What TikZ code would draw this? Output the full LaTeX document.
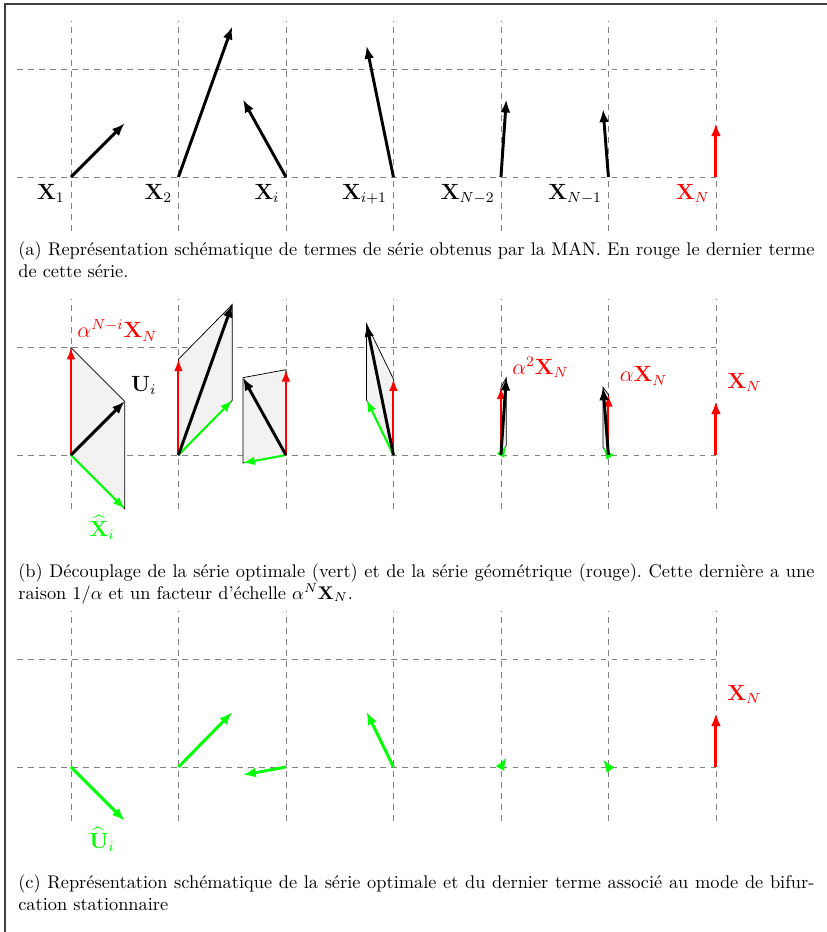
\documentclass[tikz,border=0pt]{standalone}
\usepackage{amsmath,amssymb}
\usepackage{tikz}
\usetikzlibrary{arrows.meta}
\frenchspacing

\begin{document}
\begin{tikzpicture}[x=58.6pt,y=58.6pt,
	grille/.style={gray, dashed},
	vec/.style={line width=1.6pt, -{Latex[length=7pt,width=5.4pt]}},
	vecfin/.style={line width=1.1pt, -{Latex[length=6.5pt,width=4.8pt]}},
	etiq/.style={font=\fontsize{11.5}{14}\selectfont},
	legende/.style={anchor=north west, text width=434pt, align=justify, inner sep=0pt},
	terme/.style={etiq, anchor=south west, inner sep=2pt, xshift=4pt, yshift=3pt, red}]
	\useasboundingbox (-0.660,-7.023) rectangle (7.033,1.647);
	\draw[black!75, line width=0.9pt] (-0.614,-7.023) -- (-0.614,1.609) -- (7.033,1.609);
	% grilles des trois panneaux
	\foreach \yb in {0,-2.586,-5.488} {
		\foreach \i in {0,...,6} \draw[grille] (\i,\yb-0.5) -- (\i,\yb+1.45);
		\draw[grille] (-0.5,\yb) -- (6,\yb);
		\draw[grille] (-0.5,\yb+1) -- (6,\yb+1);
	}
	% (a) termes de la serie
	\foreach \i/\dx/\dy in {0/0.5/0.5, 1/0.5/1.4, 2/-0.4/0.72, 3/-0.25/1.22, 4/0.05/0.72, 5/-0.05/0.63} {
		\coordinate (a\i) at (\i,0);
		\draw[vec] (a\i) -- ++(\dx,\dy) coordinate (a\i t);
	}
	\coordinate (a6) at (6,0);
	\draw[vec, red] (a6) -- ++(0,0.5) coordinate (a6t);
	\foreach \i/\lab in {0/1, 1/2, 2/i, 3/i+1, 4/N-2, 5/N-1}
		\node[etiq, below left, yshift=-0.5pt] (la\i) at (a\i) {$\mathbf{X}_{\lab}$};
	\node[etiq, below left, yshift=-0.5pt, red] (la6) at (a6) {$\mathbf{X}_N$};
	\node[legende] (capa) at (-0.493,-0.595) {(a) Représentation schématique de termes de série obtenus par la MAN. En rouge le dernier terme de cette série.};
	% (b) decouplage
	\foreach \i/\r/\gx/\gy in {0/1.0/0.5/-0.5, 1/0.891/0.5/0.509, 2/0.794/-0.4/-0.074, 3/0.707/-0.25/0.513, 4/0.630/0.05/0.09, 5/0.561/-0.05/0.069} {
		\coordinate (b\i) at (\i,-2.586);
		\path (b\i) ++(0,\r) coordinate (b\i r) ++(\gx,\gy) coordinate (b\i u);
		\path (b\i) ++(\gx,\gy) coordinate (b\i g);
		\filldraw[fill=gray!10, draw=black, thin] (b\i) -- (b\i r) -- (b\i u) -- (b\i g) -- cycle;
		\draw[vecfin, red] (b\i) -- (b\i r);
		\draw[vecfin, green] (b\i) -- (b\i g);
		\draw[vec] (b\i) -- (b\i u);
	}
	\coordinate (b6) at (6,-2.586);
	\draw[vec, red] (b6) -- ++(0,0.5) coordinate (b6r);
	\node[etiq, above right, red] (lb0) at (b0r) {$\alpha^{N-i}\mathbf{X}_N$};
	\node[etiq, above right] (lbu) at (b0u) {$\mathbf{U}_i$};
	\node[etiq, below left, xshift=-2pt, green] (lbg) at (b0g) {$\widehat{\mathbf{X}}_i$};
	\node[terme] (lb4) at (b4r) {$\alpha^2\mathbf{X}_N$};
	\node[terme] (lb5) at (b5r) {$\alpha\mathbf{X}_N$};
	\node[terme] (lb6) at (b6r) {$\mathbf{X}_N$};
	\node[legende] (capb) at (-0.493,-3.591) {(b) Découplage de la série optimale (vert) et de la série géométrique (rouge). Cette dernière a une raison $1/\alpha$ et un facteur d'échelle $\alpha^N\mathbf{X}_N$.};
	% (c) serie optimale seule
	\foreach \i/\gx/\gy in {0/0.5/-0.5, 1/0.5/0.509, 2/-0.4/-0.074, 3/-0.25/0.513, 4/0.05/0.09, 5/-0.05/0.069} {
		\coordinate (c\i) at (\i,-5.488);
		\draw[vec, green] (c\i) -- ++(\gx,\gy) coordinate (c\i g);
	}
	\coordinate (c6) at (6,-5.488);
	\draw[vec, red] (c6) -- ++(0,0.5) coordinate (c6r);
	\node[etiq, below left, xshift=-2pt, green] (lcg) at (c0g) {$\widehat{\mathbf{U}}_i$};
	\node[terme] (lc6) at (c6r) {$\mathbf{X}_N$};
	\node[legende] (capc) at (-0.493,-6.484) {(c) Représentation schématique de la série optimale et du dernier terme associé au mode de bifurcation stationnaire};
\end{tikzpicture}
\end{document}
